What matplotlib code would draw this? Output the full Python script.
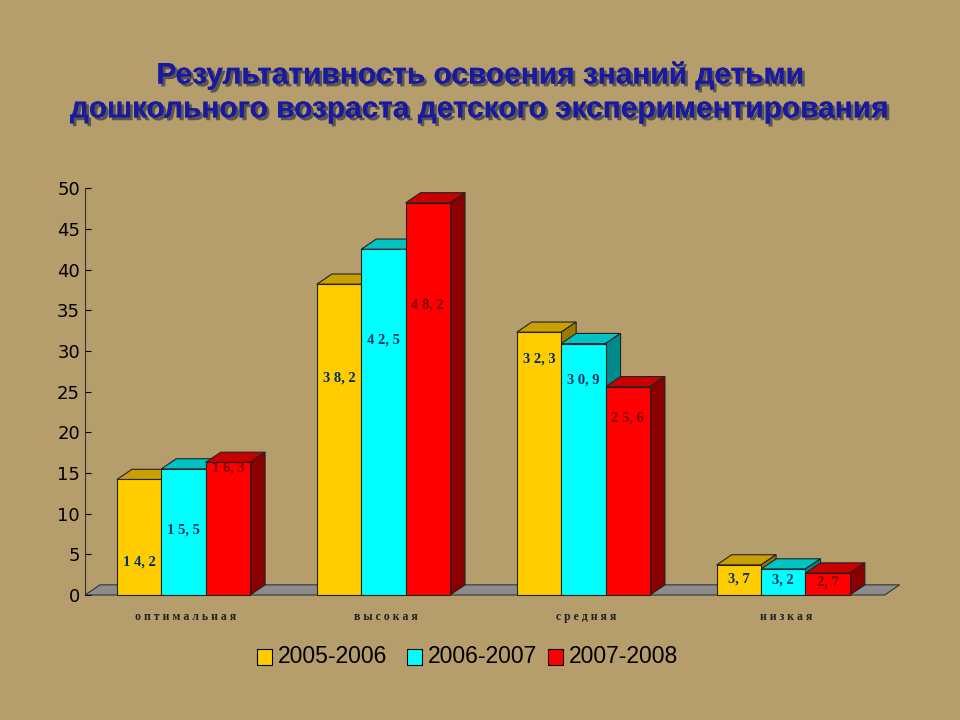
import matplotlib

matplotlib.use("Agg")
import matplotlib.pyplot as plt
from matplotlib.patches import Polygon, Rectangle
import matplotlib.patheffects as pe

categories = ["оптимальная", "высокая", "средняя", "низкая"]
series = ["2005-2006", "2006-2007", "2007-2008"]
values = [
    [14.2, 38.2, 32.3, 3.7],
    [15.5, 42.5, 30.9, 3.2],
    [16.3, 48.2, 25.6, 2.7],
]
labels = [
    ["14,2", "38,2", "32,3", "3,7"],
    ["15,5", "42,5", "30,9", "3,2"],
    ["16,3", "48,2", "25,6", "2,7"],
]
# vertical placement of the value labels inside the bars
LABEL_Y = [
    [4.0, 26.7, 29.0, 2.0],
    [8.0, 31.3, 26.4, 1.8],
    [15.6, 35.6, 21.7, 1.6],
]
FRONT = ["#ffcc00", "#00ffff", "#ff0000"]
TOP = ["#c9a000", "#00c4c4", "#c80000"]
SIDE = ["#9a7a00", "#008a8a", "#8a0000"]
BG = "#b59d6c"

fig = plt.figure(figsize=(9.6, 7.2), dpi=100, facecolor=BG)
ax = fig.add_axes([0.0885, 0.1736, 0.833, 0.565])
ax.set_facecolor("none")
ax.set_xlim(-0.525, 3.475)
ax.set_ylim(0, 50)

w, dx, dy = 0.222, 0.075, 1.25

# floor
ax.add_patch(Polygon([(-0.525, 0), (3.475, 0), (3.475 + dx, dy), (-0.525 + dx, dy)],
                     closed=True, fc="#8c8c8c", ec="#333333", lw=0.8, clip_on=False))

for s in range(3):
    for i, v in enumerate(values[s]):
        x0 = i - 0.365 + s * w
        ax.add_patch(Rectangle((x0, 0), w, v, fc=FRONT[s], ec="#222222", lw=0.8, clip_on=False, zorder=3))
        ax.add_patch(Polygon([(x0, v), (x0 + w, v), (x0 + w + dx, v + dy), (x0 + dx, v + dy)],
                             fc=TOP[s], ec="#222222", lw=0.8, clip_on=False, zorder=2))
        ax.add_patch(Polygon([(x0 + w, 0), (x0 + w + dx, dy), (x0 + w + dx, v + dy), (x0 + w, v)],
                             fc=SIDE[s], ec="#222222", lw=0.8, clip_on=False, zorder=2))
        ax.text(x0 + w / 2, LABEL_Y[s][i], " ".join(labels[s][i]).replace(" ,", ","),
                ha="center", va="center", fontsize=10.5, family="Liberation Serif",
                fontweight="bold", color="#7a0000" if s == 2 else "#003060", zorder=5)

for sp in ("top", "right", "bottom"):
    ax.spines[sp].set_visible(False)
ax.spines["left"].set_color("#333333")
ax.set_yticks(range(0, 51, 5))
ax.tick_params(axis="y", labelsize=13, colors="black", length=4, direction="in")
ax.set_xticks([])
for i, c in enumerate(categories):
    ax.text(i - 0.02, -2.0, " ".join(c), ha="center", va="top", fontsize=8.5,
            family="Liberation Serif", fontweight="bold", color="#222222")

# legend
for s in range(3):
    fx = [257, 407, 548][s] / 960
    fig.patches.append(Rectangle((fx, 0.077), 0.016, 0.022, transform=fig.transFigure,
                                 fc=FRONT[s], ec="black", lw=0.8))
    fig.text(fx + 0.022, 0.088, series[s], fontsize=16.5, va="center", family="Liberation Sans",
             color="black")

shadow = [pe.withSimplePatchShadow(offset=(2, -2), shadow_rgbFace="#444444", alpha=0.8), pe.Normal()]
fig.text(0.501, 0.895, "Результативность освоения знаний детьми", ha="center", va="center",
         fontsize=21.5, fontweight="bold", family="Liberation Sans", color="#1a1aa0", path_effects=shadow)
fig.text(0.50, 0.848, "дошкольного возраста детского экспериментирования", ha="center", va="center",
         fontsize=21.5, fontweight="bold", family="Liberation Sans", color="#1a1aa0", path_effects=shadow)

fig.savefig("out.png", dpi=100, facecolor=BG)
